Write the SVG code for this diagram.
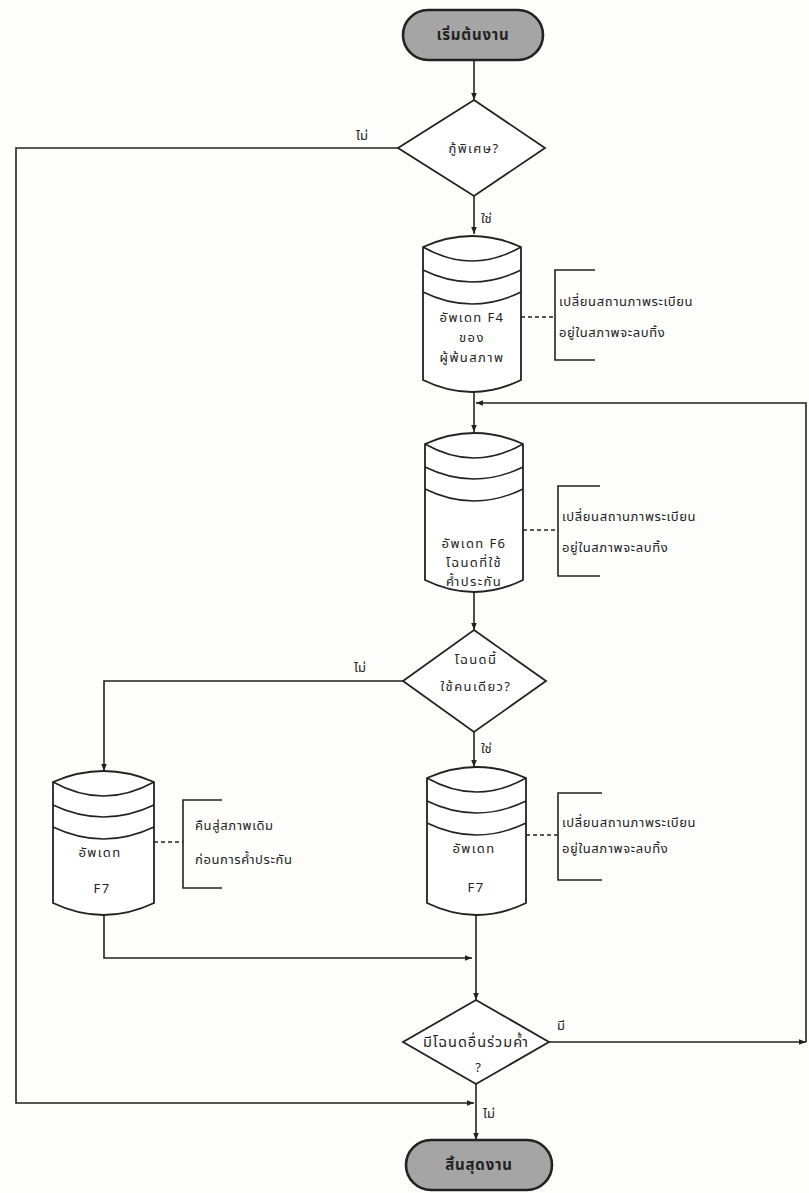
<svg xmlns="http://www.w3.org/2000/svg" width="809" height="1193" viewBox="0 0 809 1193">
<defs>
<marker id="arr" viewBox="0 0 10 10" refX="10" refY="5" markerWidth="7" markerHeight="7" markerUnits="userSpaceOnUse" orient="auto">
<path d="M0,1 L10,5 L0,9 Z" fill="#222"/>
</marker>
<style>
.bg{fill:#fdfdfb}
.ln{fill:none;stroke:#222;stroke-width:1.6}
.dash{fill:none;stroke:#222;stroke-width:1.4;stroke-dasharray:4 3}
.shape{fill:#fff;stroke:#222;stroke-width:1.8}
.pill{fill:#a5a5a5;stroke:#222;stroke-width:2.6}
.t{font-family:"Noto Sans Thai","Noto Sans","DejaVu Sans",sans-serif;font-size:13px;fill:#222}
.tc{text-anchor:middle}
.tb{font-weight:bold;font-size:15px;letter-spacing:0.8px}
.ws{letter-spacing:1.4px}
.wa{letter-spacing:0.6px}
.wd{font-size:14.5px;letter-spacing:1px}
</style>
</defs>
<rect class="bg" x="0" y="0" width="809" height="1193"/>

<g id="connectors">
<path class="ln" d="M474,60 V100" marker-end="url(#arr)"/>
<path class="ln" d="M474,196 V234" marker-end="url(#arr)"/>
<path class="ln" d="M474,392 V432" marker-end="url(#arr)"/>
<path class="ln" d="M806,1042 V403 H476" marker-end="url(#arr)"/>
<path class="ln" d="M474,592 V630" marker-end="url(#arr)"/>
<path class="ln" d="M403,681 H104 V771" marker-end="url(#arr)"/>
<path class="ln" d="M474,732 V767" marker-end="url(#arr)"/>
<path class="ln" d="M104,913 V958 H472" marker-end="url(#arr)"/>
<path class="ln" d="M476,915 V1000" marker-end="url(#arr)"/>
<path class="ln" d="M549,1042 H806" marker-end="url(#arr)"/>
<path class="ln" d="M476,1084 V1140" marker-end="url(#arr)"/>
<path class="ln" d="M398,148 H16 V1103 H474" marker-end="url(#arr)"/>
<path class="dash" d="M521,317 H555"/>
<path class="dash" d="M523,530 H558"/>
<path class="dash" d="M154,842 H183"/>
<path class="dash" d="M526,835 H558"/>
<text class="t" x="362" y="140" text-anchor="middle">ไม่</text>
<text class="t" x="481" y="223">ใช่</text>
<text class="t" x="360" y="672" text-anchor="middle">ไม่</text>
<text class="t" x="481" y="753">ใช่</text>
<text class="t" x="557" y="1030">มี</text>
<text class="t" x="483" y="1118">ไม่</text>
</g>

<g id="start">
<rect class="pill" x="403" y="10" width="140" height="50" rx="25"/>
<text class="t tc tb" x="473" y="40">เริ่มต้นงาน</text>
</g>

<g id="decision1">
<path class="shape" d="M474,100 L545,148 L474,196 L398,148 Z"/>
<text class="t tc ws" x="474" y="153">กู้พิเศษ?</text>
</g>

<g id="db1">
<path class="shape" d="M423,247 Q472,225 521,247 L521,380 Q472,404 423,380 Z"/>
<path class="ln" d="M423,247 Q472,275 521,247 M423,270 Q472,294 521,270 M423,292 Q472,316 521,292"/>
<text class="t tc ws" x="472" y="322">อัพเดท F4</text>
<text class="t tc ws" x="472" y="342">ของ</text>
<text class="t tc ws" x="472" y="362">ผู้พ้นสภาพ</text>
</g>

<g id="note1">
<path class="ln" d="M595,270 H555 V360 H595"/>
<text class="t wa" x="559" y="306">เปลี่ยนสถานภาพระเบียน</text>
<text class="t wa" x="559" y="337">อยู่ในสภาพจะลบทิ้ง</text>
</g>

<g id="db2">
<path class="shape" d="M425,444 Q474,422 523,444 L523,580 Q474,604 425,580 Z"/>
<path class="ln" d="M425,444 Q474,472 523,444 M425,467 Q474,491 523,467 M425,489 Q474,513 523,489"/>
<text class="t tc ws" x="474" y="548">อัพเดท F6</text>
<text class="t tc ws" x="474" y="567">โฉนดที่ใช้</text>
<text class="t tc ws" x="474" y="586">ค้ำประกัน</text>
</g>

<g id="note2">
<path class="ln" d="M600,486 H558 V576 H600"/>
<text class="t wa" x="562" y="521">เปลี่ยนสถานภาพระเบียน</text>
<text class="t wa" x="562" y="552">อยู่ในสภาพจะลบทิ้ง</text>
</g>

<g id="decision2">
<path class="shape" d="M474,630 L546,681 L474,732 L403,681 Z"/>
<text class="t tc ws" x="476" y="664">โฉนดนี้</text>
<text class="t tc ws" x="476" y="691">ใช้คนเดียว?</text>
</g>

<g id="db3">
<path class="shape" d="M53,782 Q103.5,760 154,782 L154,903 Q103.5,927 53,903 Z"/>
<path class="ln" d="M53,782 Q103.5,810 154,782 M53,805 Q103.5,829 154,805 M53,827 Q103.5,851 154,827"/>
<text class="t tc ws" x="100" y="857">อัพเดท</text>
<text class="t tc ws" x="102" y="893">F7</text>
</g>

<g id="note3">
<path class="ln" d="M222,800 H183 V888 H222"/>
<text class="t wa" x="195" y="830">คืนสู่สภาพเดิม</text>
<text class="t wa" x="195" y="864">ก่อนการค้ำประกัน</text>
</g>

<g id="db4">
<path class="shape" d="M427,778 Q476.5,756 526,778 L526,903 Q476.5,927 427,903 Z"/>
<path class="ln" d="M427,778 Q476.5,806 526,778 M427,801 Q476.5,825 526,801 M427,823 Q476.5,847 526,823"/>
<text class="t tc ws" x="474" y="853">อัพเดท</text>
<text class="t tc ws" x="476" y="892">F7</text>
</g>

<g id="note4">
<path class="ln" d="M602,793 H558 V880 H602"/>
<text class="t wa" x="562" y="827">เปลี่ยนสถานภาพระเบียน</text>
<text class="t wa" x="562" y="853">อยู่ในสภาพจะลบทิ้ง</text>
</g>

<g id="decision3">
<path class="shape" d="M476,1000 L549,1042 L476,1084 L403,1042 Z"/>
<text class="t tc wd" x="476" y="1047">มีโฉนดอื่นร่วมค้ำ</text>
<text class="t tc" x="478" y="1072">?</text>
</g>

<g id="end">
<rect class="pill" x="406" y="1140" width="146" height="50" rx="25"/>
<text class="t tc tb" x="479" y="1170">สิ้นสุดงาน</text>
</g>
</svg>
